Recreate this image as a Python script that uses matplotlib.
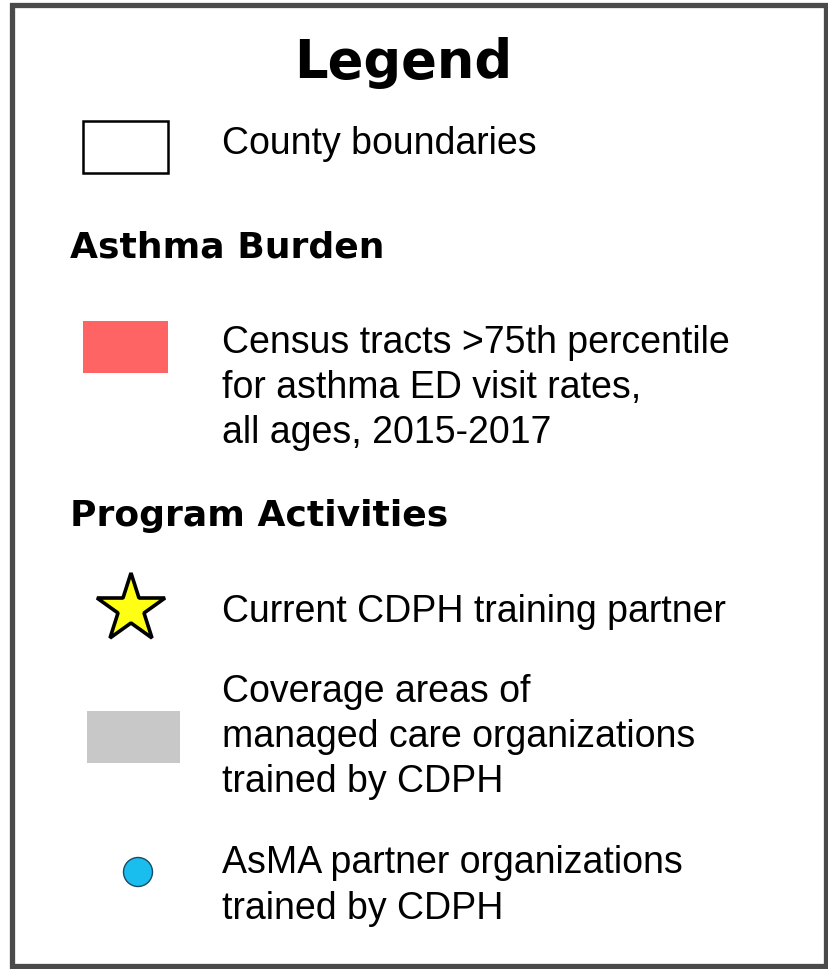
import matplotlib.pyplot as plt
from matplotlib.patches import Rectangle, Circle

# legend content
title = "Legend"
headings = ["Asthma Burden", "Program Activities"]
item_labels = [
    "County boundaries",
    "Census tracts >75th percentile\nfor asthma ED visit rates,\nall ages, 2015-2017",
    "Current CDPH training partner",
    "Coverage areas of\nmanaged care organizations\ntrained by CDPH",
    "AsMA partner organizations\ntrained by CDPH",
]
item_colors = ["white", "#FF6464", "#FFFF14", "#C8C8C8", "#19BEEE"]

W, H = 829, 969
fig = plt.figure(figsize=(W / 100, H / 100), dpi=100)
ax = fig.add_axes([0, 0, 1, 1])
ax.set_xlim(0, W)
ax.set_ylim(H, 0)
ax.axis("off")

# outer frame
ax.add_patch(Rectangle((12, 5), 814, 961, fill=False, lw=3.8, ec="#4a4a4a"))

ax.text(403, 63, title, fontsize=38, fontweight="bold", family="DejaVu Sans",
        ha="center", va="center")
ax.text(70, 247, headings[0], fontsize=26, fontweight="bold", family="DejaVu Sans",
        va="center")
ax.text(70, 516, headings[1], fontsize=26, fontweight="bold", family="DejaVu Sans",
        va="center")

body = dict(fontsize=27, family="Liberation Sans", va="center", linespacing=1.33)
text_y = [144, 388, 612, 737, 886]
for lab, y in zip(item_labels, text_y):
    ax.text(222, y, lab, **body)

# symbols
ax.add_patch(Rectangle((83, 121), 85, 52, fc=item_colors[0], ec="black", lw=1.8))
ax.add_patch(Rectangle((83, 321), 85, 52, fc=item_colors[1], ec="none"))
ax.plot([131], [609], marker="*", ms=52, mfc=item_colors[2], mec="black", mew=2.6)
ax.add_patch(Rectangle((87, 711), 93, 52, fc=item_colors[3], ec="none"))
ax.add_patch(Circle((138, 872), 14.5, fc=item_colors[4], ec="#1a4a66", lw=1))

fig.savefig("out.png", dpi=100)
